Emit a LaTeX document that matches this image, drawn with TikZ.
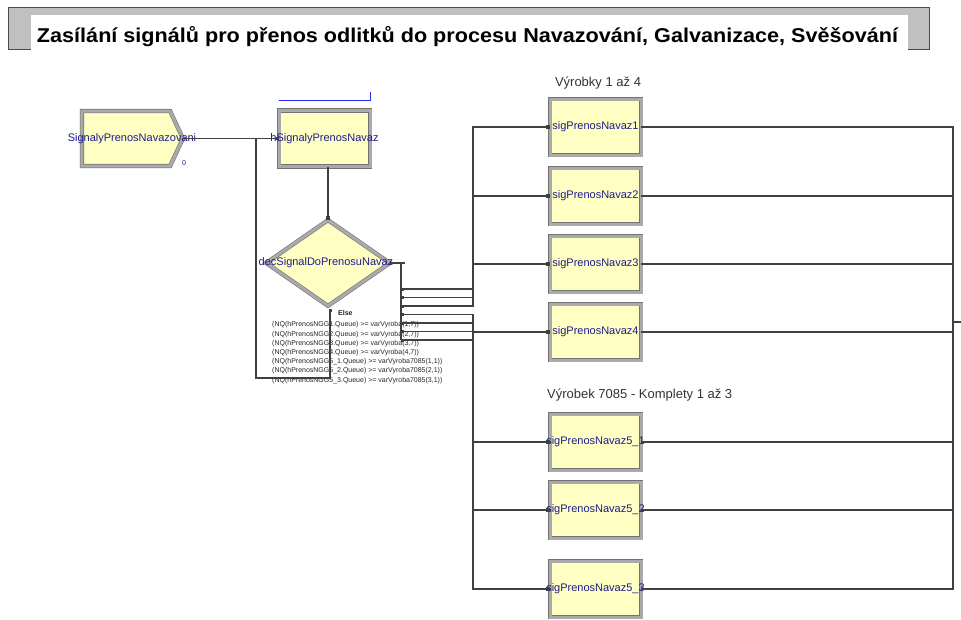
\documentclass[tikz,border=0pt]{standalone}
\usepackage{fontspec}
\setmainfont{Liberation Sans}
\usepackage{graphicx}
\usepackage{tikz}
\usetikzlibrary{arrows.meta,shapes.geometric,shapes.symbols}
\definecolor{arenablue}{RGB}{28,28,140}
\definecolor{modfill}{RGB}{255,255,196}
\definecolor{modgray}{RGB}{170,170,170}
\definecolor{framegray}{RGB}{192,192,192}
\definecolor{qblue}{RGB}{40,40,250}

\begin{document}
\begin{tikzpicture}[x=1pt,y=-1pt,
modtext/.style={text=arenablue,font=\fontsize{11}{13}\selectfont},
condtext/.style={text=black!85,font=\fontsize{7}{8}\selectfont,inner sep=0pt,anchor=west},
grptext/.style={text=black!80,font=\fontsize{13}{15}\selectfont,inner sep=0pt},
bevel/.style={fill=modfill,draw=black!55,double=modgray,double distance=3pt,line width=0.6pt,inner sep=0pt},
module/.style={bevel,rectangle,minimum width=91,minimum height=56},
create/.style={bevel,shape=signal,signal to=east,signal from=nowhere,signal pointer angle=130,minimum width=101,minimum height=55},
decide/.style={bevel,diamond,minimum width=124,minimum height=86},
wire/.style={draw=black!75,line width=1.1pt},
conn/.style={wire,-{Square[length=3.5pt,width=3.5pt]}},
]
\useasboundingbox (0,0) rectangle (961,619);
\fill[white] (0,0) rectangle (961,619);

% title banner
\filldraw[framegray,draw=black!70,line width=0.8pt] (8,7) rectangle (929,49);
\fill[white] (31,15) rectangle (908,52);
\node[anchor=base,inner sep=0pt] (title) at (467.5,42) {\resizebox{861pt}{\height}{\fontsize{20}{24}\selectfont\bfseries Zasílání signálů pro přenos odlitků do procesu Navazování, Galvanizace, Svěšování}};

% modules
\node[create,label={[modtext,xshift=6pt]center:SignalyPrenosNavazovani}] (cr) at (126,138.5) {};
\node[text=arenablue,font=\fontsize{7}{8}\selectfont,inner sep=0pt] (crcnt) at (184,163) {0};
\node[module,label={[modtext]center:hSignalyPrenosNavaz}] (hold) at (324.5,138.5) {};
\draw[qblue,line width=1pt] ([yshift=10pt]hold.north west) -- ([yshift=10pt]hold.north east) -- ++(0,-8);
\node[decide,label={[modtext,xshift=-2pt]center:decSignalDoPrenosuNavaz}] (dec) at (328,263) {};
\node[font=\fontsize{7}{8}\selectfont\bfseries,text=black!85,inner sep=0pt,anchor=west] (elselbl) at (338,313) {Else};

\node[grptext] (grp1) at (598,83) {Výrobky 1 až 4};
\node[grptext,anchor=west] (grp2) at (547,395) {Výrobek 7085 - Komplety 1 až 3};

\node[module,label={[modtext]center:sigPrenosNavaz1}] (s1) at (595.5,127) {};
\node[module,label={[modtext]center:sigPrenosNavaz2}] (s2) at (595.5,196) {};
\node[module,label={[modtext]center:sigPrenosNavaz3}] (s3) at (595.5,264) {};
\node[module,label={[modtext]center:sigPrenosNavaz4}] (s4) at (595.5,332) {};
\node[module,label={[modtext]center:sigPrenosNavaz5\_1}] (s51) at (595.5,442) {};
\node[module,label={[modtext]center:sigPrenosNavaz5\_2}] (s52) at (595.5,510) {};
\node[module,label={[modtext]center:sigPrenosNavaz5\_3}] (s53) at (595.5,589) {};

% conditions
\foreach \i/\txt in {1/{(NQ(hPrenosNGG1.Queue) >= varVyroba(1,7))},
                     2/{(NQ(hPrenosNGG2.Queue) >= varVyroba(2,7))},
                     3/{(NQ(hPrenosNGG3.Queue) >= varVyroba(3,7))},
                     4/{(NQ(hPrenosNGG4.Queue) >= varVyroba(4,7))},
                     5/{(NQ(hPrenosNGG5\_1.Queue) >= varVyroba7085(1,1))},
                     6/{(NQ(hPrenosNGG5\_2.Queue) >= varVyroba7085(2,1))},
                     7/{(NQ(hPrenosNGG5\_3.Queue) >= varVyroba7085(3,1))}}
  \node[condtext] (cond\i) at (272,{315.8+9.2*\i}) {\txt};

% connectors
\coordinate (loopc) at (256,378);
\coordinate (dbar) at (401,263);
\coordinate (jn) at (953,322);
\coordinate (nxt) at (961,322);
\draw[conn] (cr.east) -- (hold.west);
\draw[conn] (hold.south -| dec.north) -- (dec.north);
\draw[wire,{Square[length=3pt,width=3pt]}-{Square[length=3.5pt,width=3.5pt]}] ([xshift=2pt,yshift=-3pt]dec.south) |- (loopc) |- (hold.west);
\draw[wire] (dec.east) -- ++(15,0);
\draw[wire] (dbar) -- (401,340);
\foreach \i/\t in {1/s1,2/s2,3/s3,4/s4,5/s51,6/s52,7/s53}
  \draw[wire,{Square[length=3pt,width=3pt]}-{Square[length=3.5pt,width=3.5pt]}] (401,{280.5+8.5*\i}) -- (473,{280.5+8.5*\i}) |- (\t.west);
\foreach \t in {s1,s2,s3,s4,s51,s52,s53}
  \draw[wire,{Square[length=2pt,width=2pt]}-] (\t.east) -| (jn) -- (nxt);

\end{tikzpicture}
\end{document}
